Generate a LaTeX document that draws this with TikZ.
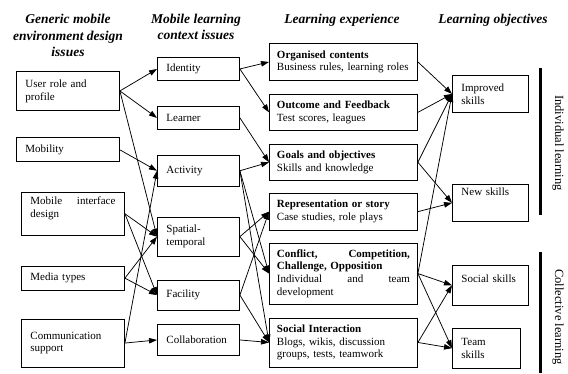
\documentclass[tikz,border=0pt]{standalone}
\usepackage{fontspec}
\setmainfont{Liberation Serif}
\usepackage{tikz}
\usetikzlibrary{arrows.meta,positioning}
% spread one line of a box over the full text width (words split by \hfill)
\newcommand{\fillline}[1]{\makebox[\linewidth][l]{#1}}

\begin{document}
\begin{tikzpicture}[
  x=1pt, y=-1pt, >={Triangle[length=8pt,width=5.5pt]}, line width=0.75pt,
  box/.style={draw, line width=0.9pt, align=left, inner xsep=9pt, inner ysep=2pt,
              font=\fontsize{11}{12.8}\selectfont},
  env/.style={box, text width=85pt},
  ctx/.style={box, text width=64pt},
  exp/.style={box, inner xsep=7.5pt, text width=133pt},
  obj/.style={box, text width=58pt},
  head/.style={align=center, font=\fontsize{13.5}{16.5}\selectfont\bfseries\itshape},
  side/.style={rotate=-90, font=\fontsize{12.5}{15}\selectfont},
  bar/.style={line width=3pt}]
\useasboundingbox (0,0) rectangle (568,373);
% headings
\node[head] (envhead) at (68,35.4) {Generic mobile\\environment design\\issues};
\node[head] (ctxhead) at (196,26.7) {Mobile learning\\context issues};
\node[head] (exphead) at (342,20) {Learning experience};
\node[head] (objhead) at (493,20) {Learning objectives};
% generic mobile environment design issues
\node[env, minimum height=39pt, anchor=north west] (user) at (16,71) {User role and\\profile};
\node[env, minimum height=24pt, below=26.5pt of user] (mobility) {Mobility};
\node[env, minimum height=43pt, below=29.5pt of mobility.south west, anchor=north west, xshift=5pt] (iface)
     {\fillline{Mobile\hfill interface}\\design\\\mbox{}};
\node[env, minimum height=24pt, below=30pt of iface] (media) {Media types};
\node[env, minimum height=48pt, below=28pt of media] (comm) {Communication\\support};
% mobile learning context issues
\node[ctx, minimum height=23pt, anchor=north west] (identity) at (157,57) {Identity};
\node[ctx, minimum height=23pt, below=25pt of identity] (learner) {Learner};
\node[ctx, minimum height=31pt, below=25pt of learner] (activity) {Activity};
\node[ctx, minimum height=39pt, below=30pt of activity] (spatial) {Spatial-\\temporal};
\node[ctx, minimum height=30pt, below=23pt of spatial] (facility) {Facility};
\node[ctx, minimum height=31pt, below=13.5pt of facility] (collab) {Collaboration};
% learning experience
\node[exp, minimum height=37pt, anchor=north west] (organised) at (269,43)
     {\textbf{Organised contents}\\Business rules, learning roles};
\node[exp, minimum height=36pt, below=13pt of organised] (outcome)
     {\textbf{Outcome and Feedback}\\Test scores, leagues};
\node[exp, minimum height=36pt, below=13pt of outcome] (goals)
     {\textbf{Goals and objectives}\\Skills and knowledge};
\node[exp, minimum height=37pt, below=12pt of goals] (story)
     {\textbf{Representation or story}\\Case studies, role plays};
\node[exp, minimum height=61pt, below=12pt of story] (conflict)
     {\fillline{\bfseries Conflict,\hfill Competition,}\\\textbf{Challenge, Opposition}\\
      \fillline{Individual\hfill and\hfill team}\\development};
\node[exp, minimum height=49pt, below=13pt of conflict] (social)
     {\textbf{Social Interaction}\\Blogs, wikis, discussion\\groups, tests, teamwork};
% learning objectives
\node[obj, minimum height=37pt, anchor=north west] (improved) at (452,75) {Improved\\skills};
\node[obj, minimum height=37pt, below=71pt of improved] (newskills) {New skills\\[10pt]\mbox{}};
\node[obj, minimum height=40pt, below=43pt of newskills] (socskills) {Social skills\\\mbox{}};
\node[obj, text width=50pt, minimum height=40pt, below=22pt of socskills.south west, anchor=north west] (team)
     {Team\\skills};
% individual / collective brackets
\draw[bar] (540,68) -- (540,215);
\draw[bar] (540,252) -- (540,373);
\node[side] (indiv) at (558,143) {Individual learning};
\node[side] (collect) at (558,317) {Collective learning};
% design issues -> context issues
\draw[->] (user.east) -- (identity.west);
\draw[->] (user.east) -- (learner.west);
\draw[->] (user.east) -- (spatial.west);
\draw[->] (mobility.east) -- (activity.west);
\draw[->] (iface.east) -- (spatial.west);
\draw[->] (iface.east) -- (facility.west);
\draw[->] (media.east) -- (spatial.west);
\draw[->] (media.east) -- (facility.west);
\draw[->] (comm.east) -- (activity.west);
\draw[->] (comm.east) -- (collab.west);
% context issues -> learning experience
\draw[->] (identity.east) -- (organised.west);
\draw[->] (identity.east) -- (outcome.west);
\draw[->] (learner.east) -- (goals.west);
\draw[->] (activity.east) -- (goals.west);
\draw[->] (activity.east) -- (conflict.west);
\draw[->] (activity.east) -- (social.west);
\draw[->] (spatial.east) -- (story.west);
\draw[->] (spatial.east) -- (conflict.west);
\draw[->] (facility.east) -- (story.west);
\draw[->] (facility.east) -- (social.west);
\draw[->] (collab.east) -- (social.west);
% learning experience -> objectives
\draw[->] (organised.east) -- (improved.west);
\draw[->] (outcome.east) -- (improved.west);
\draw[->] (goals.east) -- (improved.west);
\draw[->] (goals.east) -- (newskills.west);
\draw[->] (story.east) -- (newskills.west);
\draw[->] (conflict.east) -- (improved.west);
\draw[->] (conflict.east) -- (socskills.west);
\draw[->] (conflict.east) -- (team.west);
\draw[->] (social.east) -- (socskills.west);
\draw[->] (social.east) -- (team.west);
\end{tikzpicture}
\end{document}
